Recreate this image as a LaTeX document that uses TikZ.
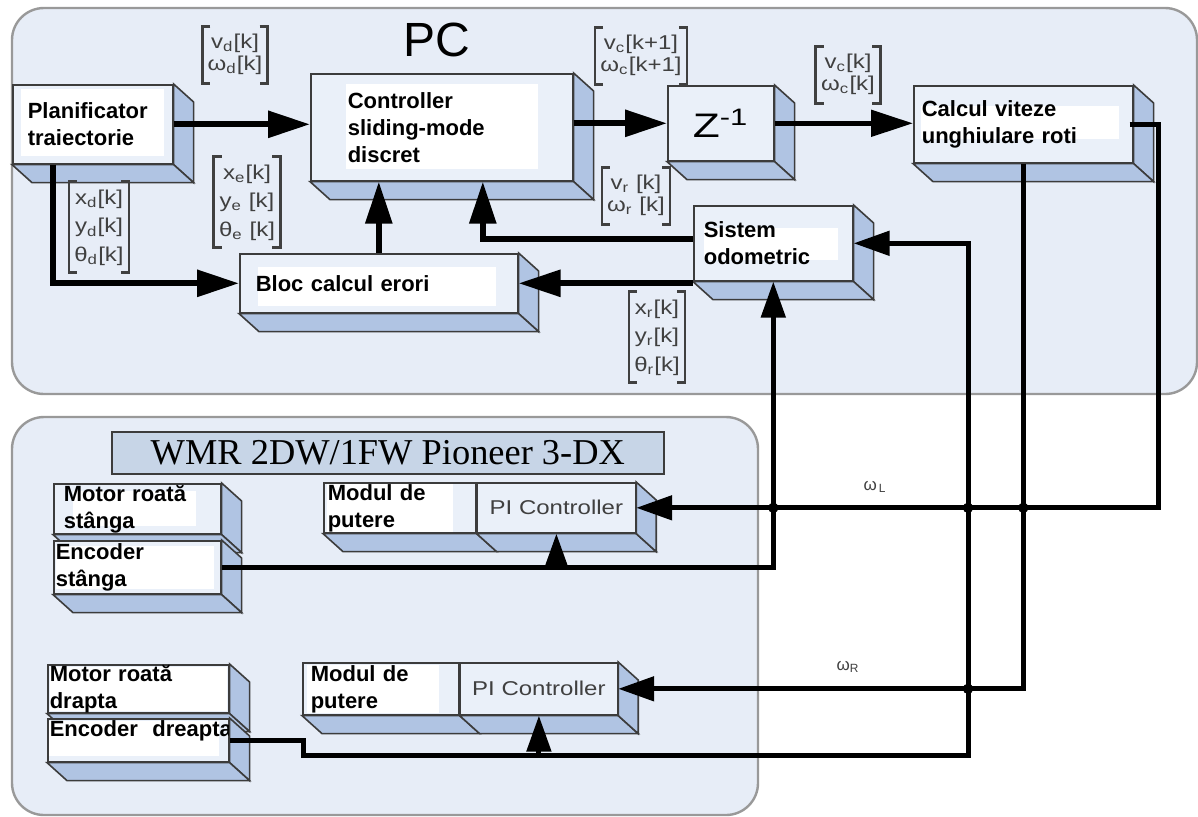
\documentclass[tikz,border=0pt]{standalone}
\usepackage{fontspec}
\usepackage{graphicx}
\setmainfont{Liberation Sans}
\newfontfamily\titlefont{Liberation Serif}
\usetikzlibrary{arrows.meta, calc}
\definecolor{panelColor}{HTML}{E7EDF7}
\definecolor{frontColor}{HTML}{EAF0F9}
\definecolor{sideColor}{HTML}{B0C4E3}
\definecolor{titleColor}{HTML}{C7D5E7}
\definecolor{edgeColor}{HTML}{3C3C3C}
\definecolor{textGray}{HTML}{404040}

% faces of the 3D blocks
\newcommand{\sideface}[1]{%
  \filldraw[depthface] (#1.north east) -- ([shift={(20,18)}]#1.north east)
    -- ([shift={(20,18)}]#1.south east) -- (#1.south east) -- cycle;}
\newcommand{\baseface}[1]{%
  \filldraw[depthface] (#1.south west) -- ([shift={(20,18)}]#1.south west)
    -- ([shift={(20,18)}]#1.south east) -- (#1.south east) -- cycle;}
\newcommand{\solidbox}[1]{\sideface{#1}\baseface{#1}}
% column vectors: rows in a node, square brackets drawn round it
\newcommand{\colvec}[2][0.95]{\renewcommand{\arraystretch}{#1}%
  \scalebox{1.2}[1]{\begin{tabular}{@{}c@{}}#2\end{tabular}}}
\newcommand{\brackets}[1]{%
  \draw[bracketline] ([xshift=4pt]#1.north west) -| (#1.south west) -- ++(4pt,0);
  \draw[bracketline] ([xshift=-4pt]#1.north east) -| (#1.south east) -- ++(-4pt,0);}

\begin{document}
\begin{tikzpicture}[x=0.5pt, y=-0.5pt,
    panel/.style={draw=gray!80, fill=panelColor, line width=1.2pt, rounded corners=16pt},
    blk/.style={draw=edgeColor, fill=frontColor, line width=0.8pt, anchor=north west,
        align=left, inner ysep=0pt, font=\fontsize{11}{13.5}\selectfont\bfseries},
    depthface/.style={draw=edgeColor, fill=sideColor, line width=0.8pt},
    whitepatch/.style n args={4}{path picture={\fill[white]
        ([shift={(#1,#2)}]path picture bounding box.north west) rectangle
        ([shift={(#3,#4)}]path picture bounding box.south east);}},
    pibox/.style={blk, align=center, inner xsep=0pt, text=textGray,
        font=\fontsize{10}{12}\selectfont},
    wire/.style={line width=3pt, -{Triangle[length=21pt,width=13pt]}},
    lowwire/.style={line width=2.5pt, -{Triangle[length=18pt,width=12pt]}},
    vecnode/.style={text=textGray, font=\fontsize{10}{11.5}\selectfont, inner xsep=2.5pt, inner ysep=3pt},
    bracketline/.style={draw=textGray, line width=1.3pt},
    wlabel/.style={text=textGray, font=\fontsize{8.5}{10}\selectfont, inner sep=0pt}]
    \useasboundingbox (0,0) rectangle (1198,816);

    % panels
    \draw[panel] (12,8) rectangle (1197,394);
    \draw[panel] (12,417) rectangle (758,815);
    \node[font=\fontsize{24}{28}\selectfont] (pc) at (437,40) {PC};
    \node[draw=edgeColor, fill=titleColor, line width=0.8pt, anchor=north west,
        minimum width=276pt, minimum height=21pt, inner sep=0pt,
        font=\titlefont\fontsize{18.2}{20}\selectfont] (wmr) at (111,431) {WMR 2DW/1FW Pioneer 3-DX};

    % PC blocks
    \node[blk, whitepatch={8}{4}{-9}{-8}, minimum width=80pt, minimum height=39.5pt,
        inner xsep=7.5pt, text width=65pt] (plan) at (12,84) {Planificator\\traiectorie};
    \solidbox{plan}
    \node[blk, whitepatch={35}{10}{-35}{-12}, minimum width=131pt, minimum height=53.5pt,
        inner xsep=18.5pt, text width=94pt] (ctrl) at (310,73) {Controller\\sliding-mode\\discret};
    \solidbox{ctrl}
    \node[blk, align=center, inner xsep=0pt, font=\fontsize{17}{19}\selectfont,
        minimum width=53pt, minimum height=37.5pt] (zinv) at (667,85)
        {\scalebox{1.3}[1]{Z\textsuperscript{-1}}};
    \solidbox{zinv}
    \node[blk, whitepatch={7}{20}{-14}{-24}, minimum width=109.5pt, minimum height=38.5pt,
        inner xsep=4pt, text width=101.5pt] (calc) at (913,85) {Calcul viteze\\unghiulare roti};
    \solidbox{calc}
    \node[blk, whitepatch={10}{22}{-15}{-21}, minimum width=79.5pt, minimum height=37.5pt,
        inner xsep=5pt, text width=69.5pt] (odo) at (693,205) {Sistem\\odometric};
    \solidbox{odo}
    \node[blk, whitepatch={18}{13}{-22}{-7}, minimum width=139pt, minimum height=29.5pt,
        inner xsep=8pt, text width=123pt] (bloc) at (239,253) {Bloc calcul erori};
    \solidbox{bloc}

    % robot blocks
    \node[blk, whitepatch={19}{7}{-25}{-8}, minimum width=83.5pt, minimum height=25pt,
        inner xsep=5pt, text width=73.5pt] (mst) at (53,483) {Motor roată\\stânga};
    \solidbox{mst}
    \node[blk, whitepatch={2}{5}{-7}{-5}, minimum width=83.5pt, minimum height=26.5pt,
        inner xsep=1pt, text width=81.5pt] (est) at (53,540) {Encoder\\stânga};
    \solidbox{est}
    \node[blk, whitepatch={3}{1}{-23}{0}, minimum width=76pt, minimum height=25pt,
        inner xsep=2pt, text width=72pt] (mod1) at (323,482) {Modul de\\putere};
    \node[pibox, minimum width=79pt, minimum height=25pt] (pi1) at (mod1.north east)
        {\scalebox{1.2}[1]{PI Controller}};
    \baseface{mod1}\baseface{pi1}\sideface{pi1}
    \node[blk, whitepatch={2}{2}{-2}{-2}, minimum width=90.5pt, minimum height=24pt,
        inner xsep=1pt, text width=88.5pt] (mdr) at (47,664) {Motor roată\\drapta};
    \solidbox{mdr}
    \node[blk, whitepatch={1}{2}{-10}{-6}, minimum width=90.5pt, minimum height=21.5pt,
        inner xsep=1pt, text width=88.5pt, text height=7pt, text depth=11pt] (edr) at (47,718)
        {Encoder~~dreapta};
    \solidbox{edr}
    \node[blk, whitepatch={4}{2}{-20}{-2}, minimum width=78pt, minimum height=26pt,
        inner xsep=4pt, text width=70pt] (mod2) at (302,662) {Modul de\\putere};
    \node[pibox, minimum width=78.5pt, minimum height=26pt] (pi2) at (mod2.north east)
        {\scalebox{1.2}[1]{PI Controller}};
    \baseface{mod2}\baseface{pi2}\sideface{pi2}

    % signal vectors
    \node[vecnode] (vd) at (235,55) {\colvec{v\textsubscript{d}[k]\\ω\textsubscript{d}[k]}};
    \node[vecnode] (vcn) at (641,56) {\colvec{v\textsubscript{c}[k+1]\\ω\textsubscript{c}[k+1]}};
    \node[vecnode] (vc) at (848,75) {\colvec{v\textsubscript{c}[k]\\ω\textsubscript{c}[k]}};
    \node[vecnode, inner ysep=1pt] (xd) at (99,227)
        {\colvec[1.25]{x\textsubscript{d}[k]\\y\textsubscript{d}[k]\\θ\textsubscript{d}[k]}};
    \node[vecnode, inner ysep=1pt] (xe) at (247,202)
        {\colvec[1.25]{x\textsubscript{e}[k]\\y\textsubscript{e} [k]\\θ\textsubscript{e} [k]}};
    \node[vecnode] (vr) at (636,196) {\colvec{v\textsubscript{r} [k]\\ω\textsubscript{r} [k]}};
    \node[vecnode, inner ysep=1pt] (xr) at (657,337)
        {\colvec[1.25]{x\textsubscript{r}[k]\\y\textsubscript{r}[k]\\θ\textsubscript{r}[k]}};
    \foreach \v in {vd, vcn, vc, xd, xe, vr, xr}
        {\brackets{\v}}

    % connections inside PC
    \draw[wire] (plan.east) -- (plan.east -| ctrl.west);
    \draw[wire] (ctrl.east |- zinv.west) -- (zinv.west);
    \draw[wire, line width=2.5pt] (zinv.east) -- (zinv.east -| calc.west);
    \draw[wire] ([xshift=20.5pt]plan.south west) |- (bloc.west);
    \draw[wire] (bloc.north) -- (bloc.north |- ctrl.south);
    \draw[wire] ([yshift=2pt]odo.west) -| ([xshift=20.5pt]ctrl.south);
    \draw[wire] (bloc.east -| odo.west) -- (bloc.east);

    % connections to the robot
    \coordinate (rtap) at (968,755);
    \draw[lowwire] ([xshift=-2pt]calc.east) -- ++(29,0) |- (pi1.east);
    \draw[lowwire] (calc.south) |- (pi2.east);
    \draw[lowwire] (est.east) -| (odo.south);
    \draw[lowwire] (pi1.south |- est.east) -- (pi1.south);
    \draw[lowwire] (edr.east) -- ++(74,0) |- (rtap) |- (odo.east);
    \draw[lowwire] (pi2.south |- rtap) -- (pi2.south);
    \foreach \p in {odo.south, rtap, calc.south}
        \fill (\p |- pi1.east) circle (2.6pt);
    \fill (rtap |- pi2.east) circle (2.6pt);
    \node[wlabel] (wl) at (875,487) {ω\textsubscript{\,L}};
    \node[wlabel] (wr) at (848,667) {ω\textsubscript{R}};
\end{tikzpicture}
\end{document}
